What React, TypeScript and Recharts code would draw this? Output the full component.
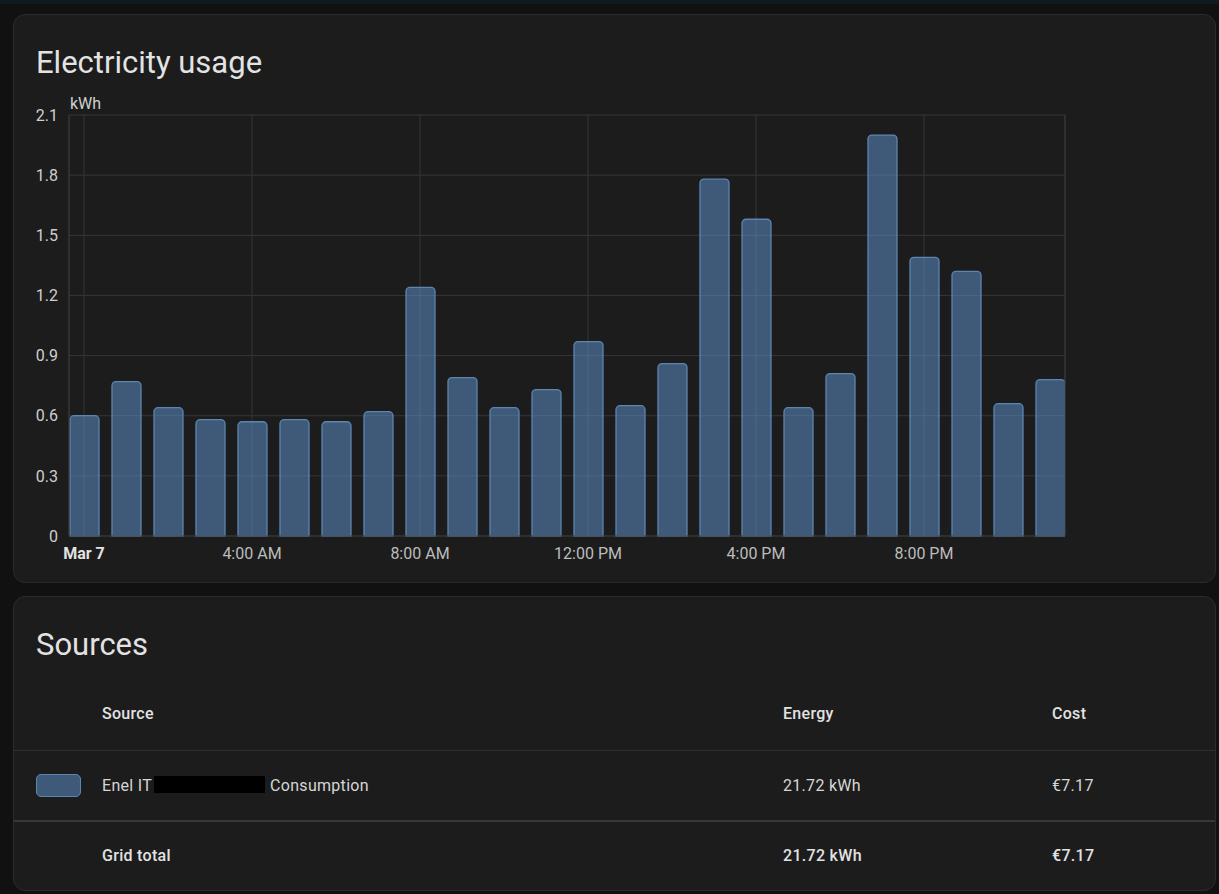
import React from 'react';
import { BarChart, Bar, XAxis, YAxis, CartesianGrid, ReferenceLine } from 'recharts';

// hourly consumption for Mar 7, kWh
const hours = [0, 1, 2, 3, 4, 5, 6, 7, 8, 9, 10, 11, 12, 13, 14, 15, 16, 17, 18, 19, 20, 21, 22, 23];
const usage = [0.6, 0.77, 0.64, 0.58, 0.57, 0.58, 0.57, 0.62, 1.24, 0.79, 0.64, 0.73, 0.97, 0.65, 0.86, 1.78, 1.58, 0.64, 0.81, 2.0, 1.39, 1.32, 0.66, 0.78];

const xTicks = [0, 4, 8, 12, 16, 20];
const xTickLabels = ['Mar 7', '4:00 AM', '8:00 AM', '12:00 PM', '4:00 PM', '8:00 PM'];
const yTicks = [0, 0.3, 0.6, 0.9, 1.2, 1.5, 1.8, 2.1];

const sourceNames = ['Enel IT', 'Grid total'];
const sourceEnergy = ['21.72 kWh', '21.72 kWh'];
const sourceCost = ['€7.17', '€7.17'];

const data = hours.map((h, i) => ({ hour: h, kwh: usage[i] }));

const GRID = '#363636';
const BAR_FILL = '#3f5a78';
const BAR_STROKE = '#5b86b2';
const HALF_BAR = 0.357; // plot edges sit half a bar outside first/last hour

function HourTick(props: any) {
  const { x, y, payload } = props;
  const i = xTicks.indexOf(payload.value);
  const first = i === 0;
  return (
    <text
      x={x}
      y={y}
      dy={21}
      textAnchor="middle"
      fontSize={16}
      fontWeight={first ? 700 : 400}
      fill={first ? '#e2e2e2' : '#bcbcbc'}
    >
      {xTickLabels[i]}
    </text>
  );
}

const card: React.CSSProperties = {
  position: 'absolute',
  left: 13,
  width: 1203,
  background: '#1c1c1c',
  border: '1px solid #2b2b2b',
  borderRadius: 12,
  boxSizing: 'border-box',
};

const title: React.CSSProperties = {
  position: 'absolute',
  left: 22,
  top: 28,
  fontSize: 31,
  lineHeight: '40px',
  color: '#e3e3e3',
  fontWeight: 400,
};

const cell: React.CSSProperties = {
  position: 'absolute',
  fontSize: 16,
  lineHeight: '20px',
  color: '#d6d6d6',
  letterSpacing: 0.3,
};

export default function App() {
  return (
    <div
      style={{
        position: 'fixed',
        inset: 0,
        width: 1219,
        height: 894,
        background: '#111111',
        fontFamily: 'Roboto, "Noto Sans", sans-serif',
        overflow: 'hidden',
      }}
    >
      <div style={{ position: 'absolute', left: 0, top: 0, width: 1219, height: 4, background: '#0f1a21' }} />

      {/* Electricity usage card */}
      <div style={{ ...card, top: 14, height: 569 }}>
        <div style={title}>Electricity usage</div>
        <div style={{ position: 'absolute', left: 56, top: 79, fontSize: 16, color: '#d0d0d0' }}>kWh</div>
        <div style={{ position: 'absolute', left: -1, top: 79 }}>
          <BarChart
            width={1100}
            height={480}
            data={data}
            margin={{ top: 21, right: 48, left: 0, bottom: 0 }}
            barCategoryGap={0}
          >
            <CartesianGrid stroke={GRID} strokeWidth={1} />
            <XAxis
              type="number"
              dataKey="hour"
              domain={[-HALF_BAR, 23 + HALF_BAR]}
              ticks={xTicks}
              interval={0}
              height={38}
              tickLine={false}
              tickSize={0}
              axisLine={{ stroke: GRID }}
              tick={<HourTick />}
              allowDataOverflow
            />
            <YAxis
              type="number"
              domain={[0, 2.1]}
              ticks={yTicks}
              interval={0}
              width={56}
              tickLine={false}
              tickSize={0}
              tickMargin={11}
              axisLine={false}
              tick={{ fontSize: 16, fill: '#cfcfcf' }}
              tickFormatter={(v: number) => (v === 0 ? '0' : v.toFixed(1))}
            />
            <ReferenceLine x={-HALF_BAR} stroke={GRID} />
            <ReferenceLine x={23 + HALF_BAR} stroke={GRID} />
            <Bar
              dataKey="kwh"
              barSize={29}
              fill="#6298d4"
              fillOpacity={0.5}
              stroke={BAR_STROKE}
              strokeWidth={1.3}
              radius={[4, 4, 0, 0]}
              isAnimationActive={false}
            />
          </BarChart>
        </div>
      </div>

      {/* Sources card */}
      <div style={{ ...card, top: 596, height: 295 }}>
        <div style={title}>Sources</div>

        <div style={{ ...cell, left: 88, top: 107, fontWeight: 500, color: '#e2e2e2' }}>Source</div>
        <div style={{ ...cell, left: 769, top: 107, fontWeight: 500, color: '#e2e2e2' }}>Energy</div>
        <div style={{ ...cell, left: 1038, top: 107, fontWeight: 500, color: '#e2e2e2' }}>Cost</div>

        <div style={{ position: 'absolute', left: 0, right: 0, top: 153, height: 1, background: '#2f2f2f' }} />

        <div
          style={{
            position: 'absolute',
            left: 22,
            top: 177,
            width: 45,
            height: 23,
            boxSizing: 'border-box',
            background: BAR_FILL,
            border: `1.5px solid ${BAR_STROKE}`,
            borderRadius: 5,
          }}
        />
        <div style={{ ...cell, left: 88, top: 179, whiteSpace: 'nowrap' }}>
          {sourceNames[0]}
          <span style={{ display: 'inline-block', width: 111, height: 17, background: '#000', verticalAlign: '-2px', marginLeft: 2, marginRight: 5 }} />
          Consumption
        </div>
        <div style={{ ...cell, left: 769, top: 179 }}>{sourceEnergy[0]}</div>
        <div style={{ ...cell, left: 1038, top: 179 }}>{sourceCost[0]}</div>

        <div style={{ position: 'absolute', left: 0, right: 0, top: 223, height: 2, background: '#383838' }} />

        <div style={{ ...cell, left: 88, top: 249, fontWeight: 500, color: '#e2e2e2' }}>{sourceNames[1]}</div>
        <div style={{ ...cell, left: 769, top: 249, fontWeight: 500, color: '#e2e2e2' }}>{sourceEnergy[1]}</div>
        <div style={{ ...cell, left: 1038, top: 249, fontWeight: 500, color: '#e2e2e2' }}>{sourceCost[1]}</div>
      </div>
    </div>
  );
}
